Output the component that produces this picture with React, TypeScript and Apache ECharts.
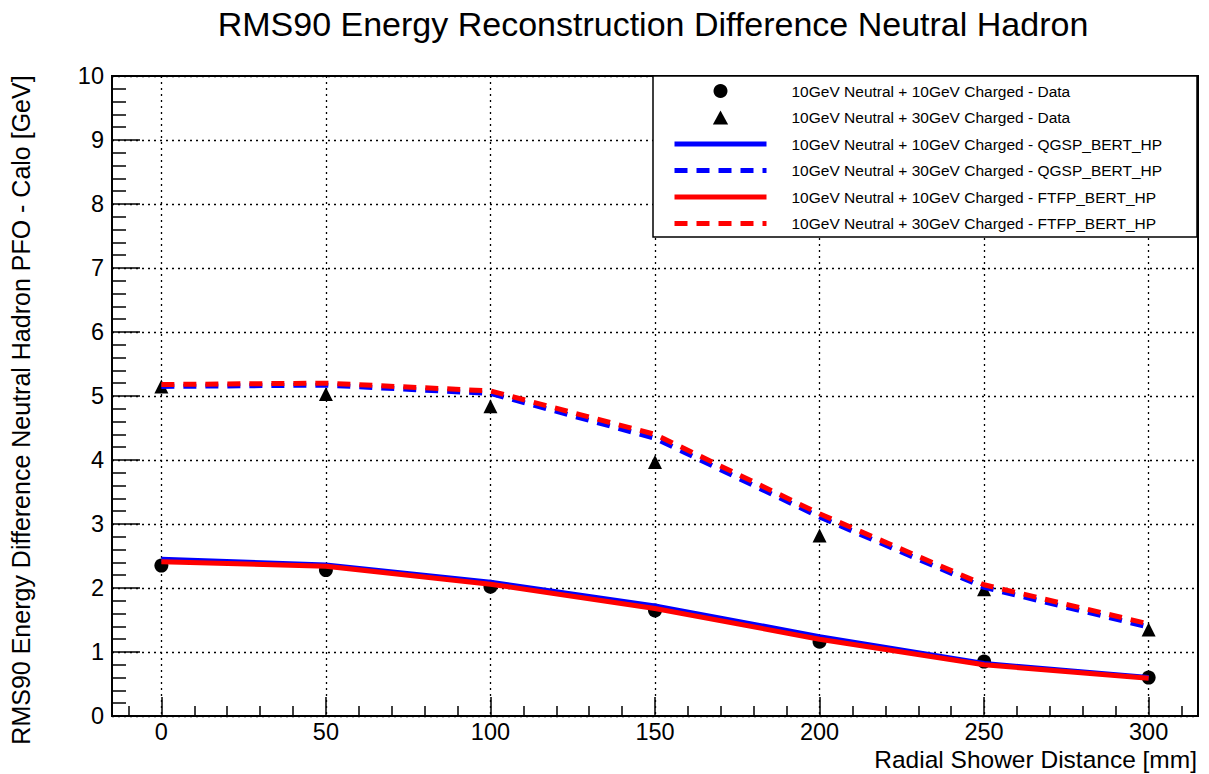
import React, { useEffect, useRef } from "react";
import * as echarts from "echarts";

const xValues = [0, 50, 100, 150, 200, 250, 300];
const data10 = [2.35, 2.28, 2.02, 1.65, 1.16, 0.85, 0.6];
const data30 = [5.15, 5.03, 4.84, 3.97, 2.82, 1.98, 1.35];
const qgsp10 = [2.45, 2.36, 2.09, 1.72, 1.24, 0.82, 0.6];
const qgsp30 = [5.15, 5.17, 5.04, 4.34, 3.11, 2.01, 1.39];
const ftfp10 = [2.41, 2.34, 2.06, 1.68, 1.2, 0.8, 0.59];
const ftfp30 = [5.18, 5.2, 5.08, 4.4, 3.16, 2.05, 1.44];

const xMajorTicks = [0, 50, 100, 150, 200, 250, 300];
const xMinorTicks = [
  -10, 10, 20, 30, 40, 60, 70, 80, 90, 110, 120, 130, 140, 160, 170, 180, 190,
  210, 220, 230, 240, 260, 270, 280, 290, 310,
];

const NAMES = [
  "10GeV Neutral + 10GeV Charged - Data",
  "10GeV Neutral + 30GeV Charged - Data",
  "10GeV Neutral + 10GeV Charged - QGSP_BERT_HP",
  "10GeV Neutral + 30GeV Charged - QGSP_BERT_HP",
  "10GeV Neutral + 10GeV Charged - FTFP_BERT_HP",
  "10GeV Neutral + 30GeV Charged - FTFP_BERT_HP",
];

const FONT = "'Liberation Sans', Arial, Helvetica, sans-serif";
const DASH = [13, 9];
const TRIANGLE_ICON = "path://M6,0 L12,11 L0,11 Z";

const pairs = (ys: number[]) => xValues.map((x, i) => [x, ys[i]]);

export default function App() {
  const ref = useRef<HTMLDivElement>(null);
  useEffect(() => {
    if (!ref.current) return;
    const chart = echarts.init(ref.current, null, { renderer: "svg" });
    const lineSeries = (name: string, ys: number[], color: string, dashed: boolean) => ({
      name,
      type: "line",
      data: pairs(ys),
      symbol: "none",
      showSymbol: false,
      silent: true,
      lineStyle: { color, width: 5, type: dashed ? DASH : "solid", cap: "butt" },
      itemStyle: { color },
    });
    chart.setOption({
      animation: false,
      backgroundColor: "#fff",
      textStyle: { fontFamily: FONT, color: "#000" },
      title: {
        text: "RMS90 Energy Reconstruction Difference Neutral Hadron",
        left: 653,
        textAlign: "center",
        top: 7,
        padding: 0,
        textStyle: { fontFamily: FONT, fontSize: 34, fontWeight: "normal", color: "#000", lineHeight: 34 },
      },
      grid: {
        left: 108,
        top: 76,
        right: 11,
        bottom: 58,
        show: true,
        borderColor: "#000",
        borderWidth: 2,
        backgroundColor: "transparent",
        containLabel: false,
      },
      legend: {
        orient: "vertical",
        left: 672,
        top: 83,
        padding: 0,
        itemWidth: 92,
        itemHeight: 14,
        itemGap: 10.5,
        z: 20,
        symbolKeepAspect: true,
        textStyle: { fontFamily: FONT, fontSize: 15.5, color: "#000", lineHeight: 14, padding: [0, 0, 0, 20] },
        data: [
          { name: NAMES[0], icon: "circle", itemStyle: { color: "#000", opacity: 1 } },
          { name: NAMES[1], icon: TRIANGLE_ICON, itemStyle: { color: "#000", opacity: 1 } },
          { name: NAMES[2], itemStyle: { opacity: 0 }, lineStyle: { width: 5 } },
          { name: NAMES[3], itemStyle: { opacity: 0 }, lineStyle: { width: 5 } },
          { name: NAMES[4], itemStyle: { opacity: 0 }, lineStyle: { width: 5 } },
          { name: NAMES[5], itemStyle: { opacity: 0 }, lineStyle: { width: 5 } },
        ],
      },
      graphic: {
        elements: [
          {
            type: "rect",
            z: 10,
            shape: { x: 653, y: 76, width: 544, height: 161 },
            style: { fill: "#fff", stroke: "#000", lineWidth: 1.5 },
          },
        ],
      },
      xAxis: [
        {
          type: "value",
          min: -15,
          max: 315,
          position: "bottom",
          name: "Radial Shower Distance [mm]",
          nameLocation: "end",
          nameGap: -1,
          nameMoveOverlap: false,
          nameTextStyle: {
            fontFamily: FONT,
            fontSize: 24.5,
            color: "#000",
            align: "right",
            verticalAlign: "top",
            lineHeight: 22,
            padding: [32, 0, 0, 0],
          },
          axisLine: { show: true, onZero: false, lineStyle: { color: "#000", width: 2 } },
          axisTick: { show: true, inside: true, length: 19, customValues: xMajorTicks, lineStyle: { color: "#000", width: 1.5 } },
          axisLabel: { show: true, customValues: xMajorTicks, fontFamily: FONT, fontSize: 23.5, lineHeight: 20, color: "#000", margin: 6 },
          splitLine: { show: true, lineStyle: { color: "#000", width: 1.3, type: [2, 4] } },
        },
        {
          type: "value",
          min: -15,
          max: 315,
          position: "bottom",
          offset: 0,
          axisLine: { show: false },
          axisTick: { show: true, inside: true, length: 10, customValues: xMinorTicks, lineStyle: { color: "#000", width: 1.5 } },
          axisLabel: { show: false },
          splitLine: { show: false },
        },
      ],
      yAxis: {
        type: "value",
        min: 0,
        max: 10,
        interval: 1,
        name: "RMS90 Energy Difference Neutral Hadron PFO - Calo [GeV]",
        nameLocation: "middle",
        nameGap: 79,
        nameRotate: 90,
        nameMoveOverlap: false,
        nameTextStyle: { fontFamily: FONT, fontSize: 25, color: "#000", padding: [0, 28, 0, 0] },
        axisLine: { show: true, onZero: false, lineStyle: { color: "#000", width: 2 } },
        axisTick: { show: true, inside: true, length: 28, lineStyle: { color: "#000", width: 1.5 } },
        minorTick: { show: true, splitNumber: 5, length: 14, lineStyle: { color: "#000", width: 1.5 } },
        axisLabel: { fontFamily: FONT, fontSize: 23.5, color: "#000", margin: 8 },
        splitLine: { show: true, lineStyle: { color: "#000", width: 1.3, type: [2, 4] } },
        minorSplitLine: { show: false },
      },
      series: [
        {
          name: NAMES[0],
          type: "scatter",
          data: pairs(data10),
          symbol: "circle",
          symbolSize: 14,
          silent: true,
          itemStyle: { color: "#000", opacity: 1 },
        },
        {
          name: NAMES[1],
          type: "scatter",
          data: pairs(data30),
          symbol: "triangle",
          symbolSize: 14,
          silent: true,
          itemStyle: { color: "#000", opacity: 1 },
        },
        lineSeries(NAMES[2], qgsp10, "#0000ff", false),
        lineSeries(NAMES[3], qgsp30, "#0000ff", true),
        lineSeries(NAMES[4], ftfp10, "#ff0000", false),
        lineSeries(NAMES[5], ftfp30, "#ff0000", true),
      ],
    });
    return () => chart.dispose();
  }, []);
  return (
    <div
      ref={ref}
      style={{ position: "absolute", left: 0, top: 0, width: 1209, height: 774, background: "#fff" }}
    />
  );
}
